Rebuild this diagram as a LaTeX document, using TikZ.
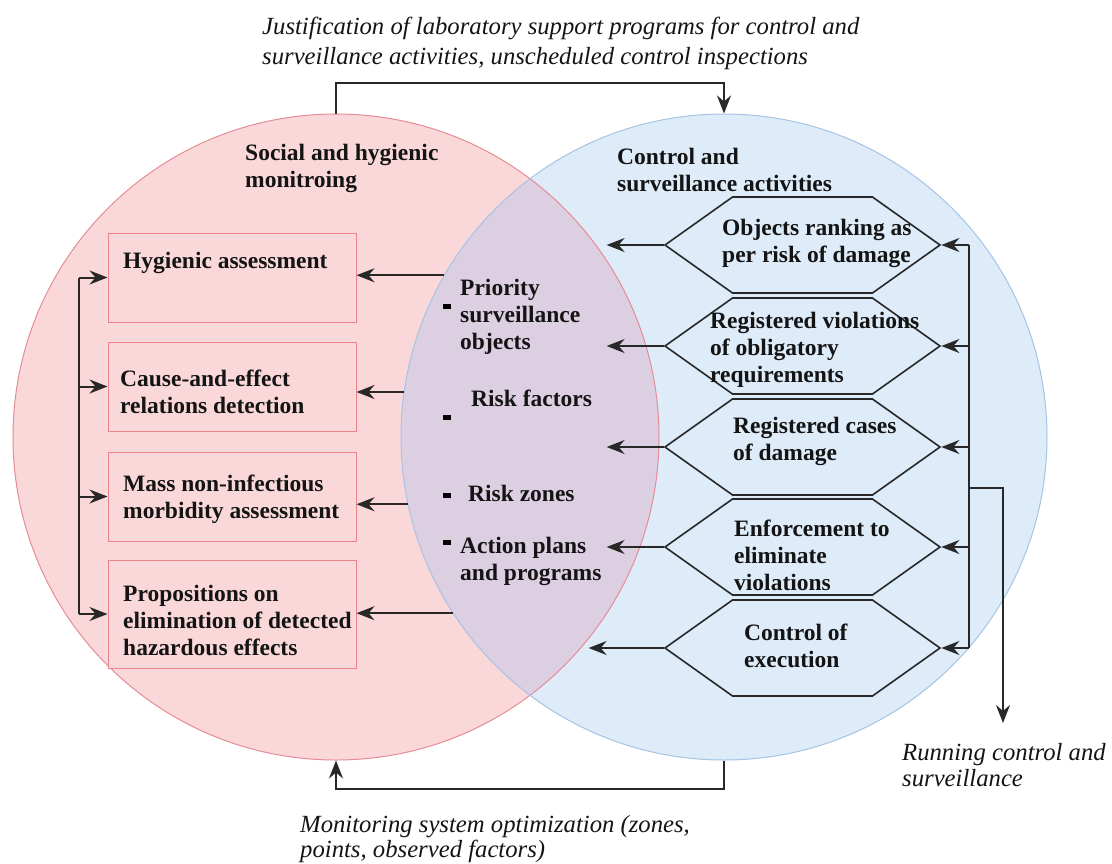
\documentclass[tikz,border=0pt]{standalone}
\usepackage{fontspec}
\setmainfont{Liberation Serif}
\usetikzlibrary{arrows.meta,shapes.symbols}
\definecolor{pinkfill}{RGB}{250,216,218}
\definecolor{bluefill}{RGB}{222,235,248}
\definecolor{lensfill}{RGB}{220,207,226}
\definecolor{pinkline}{RGB}{230,140,150}
\definecolor{blueline}{RGB}{165,196,228}
\definecolor{boxline}{RGB}{236,130,140}
\definecolor{ink}{RGB}{40,40,40}
\definecolor{txt}{RGB}{20,20,20}
\begin{document}
\begin{tikzpicture}[x=1pt,y=-1pt,
  bf/.style={font=\fontsize{23.5}{27}\selectfont\bfseries, text=txt, align=left, inner sep=0pt},
  it/.style={font=\fontsize{24.7}{30}\selectfont\itshape, text=txt, align=left, inner sep=0pt},
  box/.style={draw=boxline, fill=pinkfill, line width=1pt, minimum width=248pt, inner sep=0pt},
  hexa/.style={signal, signal to=east and west, signal pointer angle=70.8, draw=ink, fill=bluefill, line width=1.6pt, minimum width=275pt, minimum height=96pt, inner sep=0pt},
  arr/.style={draw=ink, line width=2pt, -{Stealth[length=18pt,width=14pt,inset=6pt]}},
  ln/.style={draw=ink, line width=2pt},
  bullet/.style={fill=black, minimum width=8pt, minimum height=5pt, inner sep=0pt}
]
\useasboundingbox (0,0) rectangle (1112,863);
% circles
\fill[pinkfill] (336,437) circle [radius=323pt];
\fill[bluefill] (724,437) circle [radius=323pt];
\begin{scope}
\clip (336,437) circle [radius=323pt];
\fill[lensfill] (724,437) circle [radius=323pt];
\end{scope}
\node[circle, draw=pinkline, line width=1pt, minimum size=646pt, inner sep=0pt] (L) at (336,437) {};
\node[circle, draw=blueline, line width=1pt, minimum size=646pt, inner sep=0pt] (R) at (724,437) {};

% outer texts
\node[it, anchor=west] (topT) at (262,43) {Justification of laboratory support programs for control and\\surveillance activities, unscheduled control inspections};
\node[it, anchor=west, font=\fontsize{24.7}{25}\selectfont\itshape] (botT) at (300,839) {Monitoring system optimization (zones,\\points, observed factors)};
\node[it, anchor=west, font=\fontsize{24.7}{26}\selectfont\itshape] (runT) at (902,765) {Running control and\\surveillance};

% circle titles
\node[bf, anchor=west] (Lt) at (245,168) {Social and hygienic\\monitroing};
\node[bf, anchor=west] (Rt) at (617,169.5) {Control and\\surveillance activities};

% left boxes
\node[box, minimum height=89pt] (b1) at (232,277.5) {};
\node[box, minimum height=89pt] (b2) at (232,386.5) {};
\node[box, minimum height=89pt] (b3) at (232,496.5) {};
\node[box, minimum height=108pt] (b4) at (232,614) {};
\node[bf, anchor=west] (b1t) at (123,263) {Hygienic assessment};
\node[bf, anchor=west] (b2t) at (120,391.5) {Cause-and-effect\\relations detection};
\node[bf, anchor=west] (b3t) at (123,499) {Mass non-infectious\\morbidity assessment};
\node[bf, anchor=west] (b4t) at (123,620) {Propositions on\\elimination of detected\\hazardous effects};

% lens labels
\node[bullet] (d1) at (447,306) {};
\node[bullet] (d2) at (447,417) {};
\node[bullet] (d3) at (447,495) {};
\node[bullet] (d4) at (447,542) {};
\node[bf, anchor=west] (p1) at (460,317) {Priority\\surveillance\\objects};
\node[bf, anchor=west] (p2) at (471,398) {Risk factors};
\node[bf, anchor=west] (p3) at (468,493) {Risk zones};
\node[bf, anchor=west] (p4) at (460,561.5) {Action plans\\and programs};

% hexagons
\node[hexa] (h1) at (802.5,245) {};
\node[hexa] (h2) at (802.5,346) {};
\node[hexa] (h3) at (802.5,447) {};
\node[hexa] (h4) at (802.5,547) {};
\node[hexa] (h5) at (802.5,648) {};
\node[bf, anchor=west] (h1t) at (722,243.5) {Objects ranking as\\per risk of damage};
\node[bf, anchor=west] (h2t) at (710,350) {Registered violations\\of obligatory\\requirements};
\node[bf, anchor=west] (h3t) at (733,441) {Registered cases\\of damage};
\node[bf, anchor=west] (h4t) at (734,555) {Enforcement to\\eliminate\\violations};
\node[bf, anchor=west] (h5t) at (744,645.5) {Control of\\execution};

% top and bottom loops
\draw[arr] (L.north) -- ++(0,-31) -| (R.north);
\draw[arr] (R.south) -- ++(0,28) -| (L.south);

% left spine
\coordinate (ls) at (79,0);
\draw[ln] (ls |- b1.west) -- (ls |- b4.west);
\foreach \b in {b1,b2,b3,b4} \draw[arr] (ls |- \b.west) -- (\b.west);

% lens to boxes
\draw[arr] (R.150) -- (R.150 -| b1.east);
\draw[arr] (R.172) -- (R.172 -| b2.east);
\draw[arr] (R.192) -- (R.192 -| b3.east);
\draw[arr] (R.213) -- (R.213 -| b4.east);

% hexagons to lens
\foreach \h in {h1,h2,h3,h4} \draw[arr] (\h.west) -- ++(-57,0);
\draw[arr] (h5.west) -- ++(-75,0);

% right spine
\coordinate (rs) at (969,0);
\draw[ln] (rs |- h1.east) -- (rs |- h5.east);
\foreach \h in {h1,h2,h3,h4,h5} \draw[arr] (rs |- \h.east) -- (\h.east);
\coordinate (rb) at (969,488);
\coordinate (rtip) at (1003,723);
\draw[arr] (rb) -| (rtip);
\end{tikzpicture}
\end{document}
